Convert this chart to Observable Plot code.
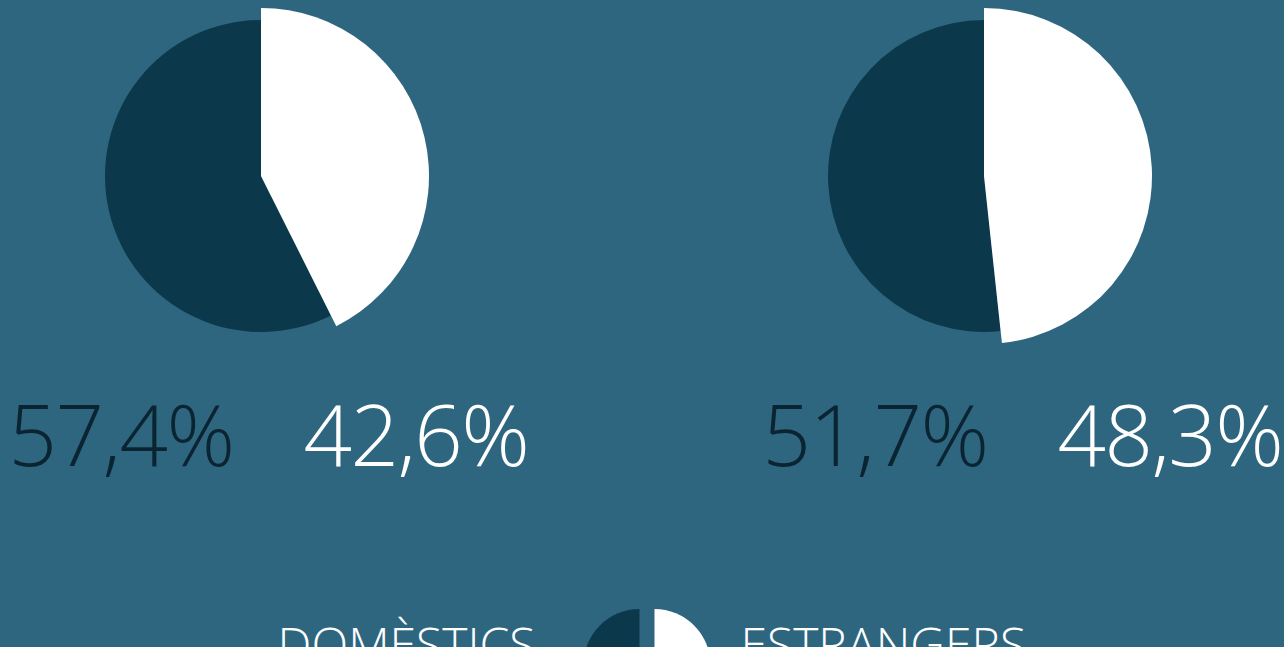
<!DOCTYPE html>
<html><head><meta charset="utf-8">
<script src="https://cdn.jsdelivr.net/npm/d3@7"></script>
<script src="https://cdn.jsdelivr.net/npm/@observablehq/plot@0.6"></script>
<style>html,body{margin:0;padding:0;background:#2e6680;overflow:hidden}</style>
</head><body><div id="chart"></div><script>
// Data
const pies = ["Gràfic 1", "Gràfic 2"];
const series = ["DOMÈSTICS", "ESTRANGERS"];
const domestic = [57.4, 51.7];
const foreign = [42.6, 48.3];

// Styles
const sliceColors = ["#0b384b", "#ffffff"];
const labelColors = ["#0a2531", "#ffffff"];
const radii = [156, 168];
const FONT = "Open Sans";

const fmt = v => v.toFixed(1).replace(".", ",") + "%";
const rows = pies.flatMap((p, i) => [
  {pie: p, series: series[0], value: domestic[i]},
  {pie: p, series: series[1], value: foreign[i]}
]);

function pieMark(index, scales, values, dimensions) {
  const g = d3.create("svg:g");
  const cy = dimensions.marginTop + radii[1];
  for (const p of pies) {
    const f = rows.find(r => r.pie === p && r.series === series[1]).value / 100 * 2 * Math.PI;
    const cx = scales.x(p);
    const arcs = [
      {start: f, end: 2 * Math.PI, r: radii[0], fill: sliceColors[0]},
      {start: 0, end: f, r: radii[1], fill: sliceColors[1]}
    ];
    for (const a of arcs) {
      g.append("path")
        .attr("transform", `translate(${cx},${cy})`)
        .attr("d", d3.arc()({innerRadius: 0, outerRadius: a.r, startAngle: a.start, endAngle: a.end}))
        .attr("fill", a.fill);
    }
  }
  return g.node();
}

function legendIcon(index, scales, values, dimensions) {
  const g = d3.create("svg:g");
  const cx = dimensions.width / 2 + 5;
  const cy = 665;
  const r = 56, gap = 7.5;
  g.append("path").attr("transform", `translate(${cx - gap},${cy})`)
    .attr("d", d3.arc()({innerRadius: 0, outerRadius: r, startAngle: Math.PI, endAngle: 2 * Math.PI}))
    .attr("fill", sliceColors[0]);
  g.append("path").attr("transform", `translate(${cx + gap},${cy})`)
    .attr("d", d3.arc()({innerRadius: 0, outerRadius: r, startAngle: 0, endAngle: Math.PI}))
    .attr("fill", sliceColors[1]);
  return g.node();
}

const labelOffsets = [7, 38];
const labelGap = 35;
const labelMarks = pies.flatMap((p, i) => [
  Plot.text(rows.filter(r => r.pie === p && r.series === series[0]), {
    x: "pie", text: d => fmt(d.value), frameAnchor: "top", lineAnchor: "bottom",
    dy: 457, dx: labelOffsets[i] - labelGap, textAnchor: "end",
    fill: labelColors[0], fontSize: 85, fontWeight: 300, fontFamily: FONT
  }),
  Plot.text(rows.filter(r => r.pie === p && r.series === series[1]), {
    x: "pie", text: d => fmt(d.value), frameAnchor: "top", lineAnchor: "bottom",
    dy: 457, dx: labelOffsets[i] + labelGap, textAnchor: "start",
    fill: labelColors[1], fontSize: 85, fontWeight: 300, fontFamily: FONT
  })
]);

const chart = Plot.plot({
  width: 1284,
  height: 720,
  margin: 0,
  marginTop: 8,
  style: {background: "#2e6680", overflow: "visible"},
  x: {type: "point", domain: pies, range: [261, 984], padding: 0, axis: null},
  marks: [
    pieMark,
    ...labelMarks,
    Plot.text([series[0]], {text: d => d, frameAnchor: "top", lineAnchor: "bottom", dy: 653, dx: -107,
      textAnchor: "end", fill: "#ffffff", fontSize: 48, fontWeight: 300, fontFamily: FONT}),
    Plot.text([series[1]], {text: d => d, frameAnchor: "top", lineAnchor: "bottom", dy: 653, dx: 98,
      textAnchor: "start", fill: "#ffffff", fontSize: 48, fontWeight: 300, fontFamily: FONT}),
    legendIcon
  ]
});
chart.querySelectorAll('g[font-size="85"] text').forEach(t => t.style.letterSpacing = "-1.5px");
document.getElementById("chart").appendChild(chart);
</script></body></html>
